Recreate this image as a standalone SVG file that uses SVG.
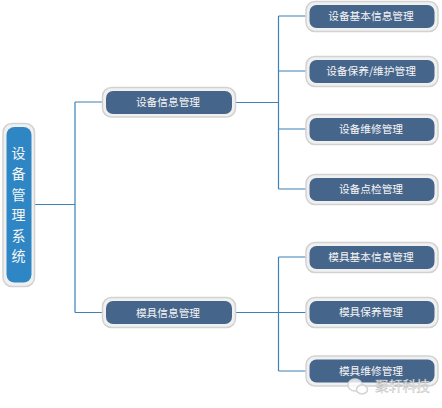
<svg xmlns="http://www.w3.org/2000/svg" width="442" height="408" viewBox="0 0 442 408">
<style>
.o{fill:#f0f0f0;stroke:#d2d2d2;stroke-width:1.5}
.i{fill:#46658a}
.r{fill:#2e86c4}
text{font-family:"Noto Sans CJK SC","Liberation Sans",sans-serif;fill:#f6f6f6;text-anchor:middle}
.t{font-size:10.7px}
.v{font-size:14px}
#connectors path{fill:none;stroke:#3b82b8;stroke-width:1.2}
</style>
<rect width="442" height="408" fill="#fff"/>
<g id="connectors">
<path d="M35 204.500H75M75 102V312.500M75 102H102M75 312.500H102"/>
<path d="M236 102.500H278.500M278.500 16V189M278.500 16H306M278.500 71H306M278.500 129H306M278.500 189H306"/>
<path d="M236 312.500H278.500M278.500 257V371M278.500 257H306M278.500 312.500H306M278.500 371H306"/>
</g>
<g id="root"><rect class="o" x="3" y="123.500" width="31.500" height="163" rx="9"/><rect class="r" x="6.500" y="127" width="25" height="155.500" rx="8"/>
<text class="v" x="18.500" y="158">设</text><text class="v" x="18.500" y="178.500">备</text><text class="v" x="18.500" y="199.500">管</text><text class="v" x="18.500" y="220">理</text><text class="v" x="18.500" y="240.500">系</text><text class="v" x="18.500" y="261">统</text></g>
<g id="n1"><rect class="o" x="102.500" y="87.500" width="133" height="29.500" rx="9"/><rect class="i" x="106" y="91" width="126" height="23" rx="7"/><text class="t" x="168" y="106">设备信息管理</text></g>
<g id="n2"><rect class="o" x="102.500" y="297.500" width="133" height="30" rx="9"/><rect class="i" x="106" y="301" width="126" height="23" rx="7"/><text class="t" x="168" y="316.500">模具信息管理</text></g>
<g id="a1"><rect class="o" x="306" y="1.500" width="132" height="30" rx="9"/><rect class="i" x="309.500" y="5" width="125" height="23" rx="7"/><text class="t" x="371" y="20">设备基本信息管理</text></g>
<g id="a2"><rect class="o" x="306" y="56.500" width="132" height="30" rx="9"/><rect class="i" x="309.500" y="60" width="125" height="23" rx="7"/><text class="t" x="371" y="75">设备保养/维护管理</text></g>
<g id="a3"><rect class="o" x="306" y="114.500" width="132" height="30" rx="9"/><rect class="i" x="309.500" y="118" width="125" height="23" rx="7"/><text class="t" x="371" y="133">设备维修管理</text></g>
<g id="a4"><rect class="o" x="306" y="174.500" width="132" height="30" rx="9"/><rect class="i" x="309.500" y="178" width="125" height="23" rx="7"/><text class="t" x="371" y="193">设备点检管理</text></g>
<g id="b1"><rect class="o" x="306" y="242.500" width="132" height="30" rx="9"/><rect class="i" x="309.500" y="246" width="125" height="23" rx="7"/><text class="t" x="371" y="261">模具基本信息管理</text></g>
<g id="b2"><rect class="o" x="306" y="297.500" width="132" height="30" rx="9"/><rect class="i" x="309.500" y="301" width="125" height="23" rx="7"/><text class="t" x="371" y="316">模具保养管理</text></g>
<g id="b3"><rect class="o" x="306" y="356" width="132" height="30" rx="9"/><rect class="i" x="309.500" y="359.500" width="125" height="23" rx="7"/><text class="t" x="371" y="375">模具维修管理</text></g>
<g id="watermark"><ellipse cx="355" cy="385" rx="7" ry="6" fill="#fff" fill-opacity="0.8" stroke="#d4d4d4" stroke-width="1.500"/><ellipse cx="362" cy="389.500" rx="5.500" ry="4.500" fill="#fff" stroke="#d4d4d4" stroke-width="1.500"/><text x="402.500" y="391" style="font-size:13.700px;fill:#f2f2f2;stroke:#aaa;stroke-width:.3">聚轩科技</text></g>
</svg>
